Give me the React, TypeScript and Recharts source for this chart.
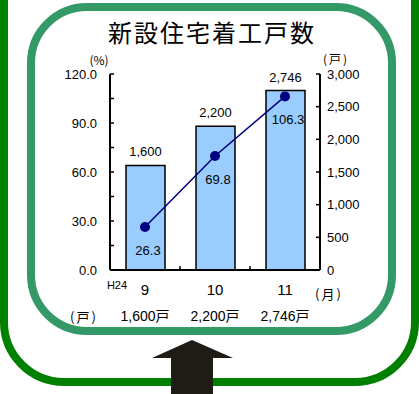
import { ComposedChart, Bar, Line, XAxis, YAxis, LabelList } from 'recharts';

// 新設住宅着工戸数（H24年9〜11月）
const months = ['9', '10', '11'];
const units = [1600, 2200, 2746]; // 戸
const ratio = [26.3, 69.8, 106.3]; // %
const leftTicks = [0, 15, 30, 45, 60, 75, 90, 105, 120];
const rightTicks = [0, 500, 1000, 1500, 2000, 2500, 3000];
const eraLabel = 'H24';

const rows = months.map((m, i) => ({ month: m, units: units[i], ratio: ratio[i] }));

const W = 419;
const H = 394;
const NUM_FONT = '"Liberation Sans", Arial, "Noto Sans CJK JP", sans-serif';
const JP_FONT = '"Noto Sans CJK JP", sans-serif';

const fmtCount = (v: number) => v.toLocaleString('ja-JP');

function MonthTick(props: any) {
  const { x, y, payload, index } = props;
  const half = payload?.offset ?? 0;
  const count = rows[index]?.units ?? 0;
  return (
    <g fontFamily={NUM_FONT} fill="#000">
      {index < rows.length - 1 && (
        <line x1={x + half} x2={x + half} y1={y} y2={y - 4} stroke="#000" strokeWidth={1.5} />
      )}
      {index === 0 && (
        <text x={x - half + 7} y={y + 19} textAnchor="middle" fontSize={11}>
          {eraLabel}
        </text>
      )}
      <text x={x} y={y + 25} textAnchor="middle" fontSize={15}>
        {payload.value}
      </text>
      <text x={x} y={y + 51} textAnchor="middle" fontSize={14}>
        {fmtCount(count)}戸
      </text>
    </g>
  );
}

function CountLabel(props: any) {
  const { x, y, width, value } = props;
  return (
    <text x={x + width / 2} y={y - 9} textAnchor="middle" fontSize={13} fontFamily={NUM_FONT} fill="#000">
      {fmtCount(value)}
    </text>
  );
}

function RatioLabel(props: any) {
  const { x, y, value } = props;
  return (
    <text x={x + 3} y={y + 28} textAnchor="middle" fontSize={13} fontFamily={NUM_FONT} fill="#000">
      {Number(value).toFixed(1)}
    </text>
  );
}

function Frame() {
  return (
    <svg width={W} height={H} style={{ position: 'absolute', left: 0, top: 0 }}>
      <rect x={4} y={-100} width={411} height={482} rx={60} fill="none" stroke="#008000" strokeWidth={8} />
      <rect x={31} y={7} width={361} height={324} rx={56} fill="#fff" stroke="#339966" strokeWidth={8} />
      <polygon points="192,340 233,358 213,358 213,394 171,394 171,358 152,358" fill="#1f1b15" />
      <text x={212} y={42} textAnchor="middle" fontSize={24} letterSpacing={2} fontFamily={JP_FONT} fill="#000">
        新設住宅着工戸数
      </text>
      <g fontFamily={JP_FONT} fontSize={12} fill="#000" textAnchor="middle">
        <text x={99} y={65}>(%)</text>
        <text x={336} y={64} letterSpacing={2}>(戸)</text>
        <text x={329} y={299} fontSize={13} letterSpacing={2}>(月)</text>
        <text x={84} y={322} fontSize={13} letterSpacing={2}>(戸)</text>
      </g>
    </svg>
  );
}

export default function App() {
  return (
    <div style={{ position: 'absolute', left: 0, top: 0, width: W, height: H, background: '#fff', overflow: 'hidden' }}>
      <Frame />
      <div style={{ position: 'absolute', left: 0, top: 0 }}>
        <ComposedChart width={W} height={H} data={rows} margin={{ top: 74, right: 49, bottom: 64, left: 60 }}>
          <XAxis
            dataKey="month"
            interval={0}
            height={60}
            tickSize={0}
            tickMargin={0}
            tickLine={false}
            axisLine={{ stroke: '#000', strokeWidth: 2 }}
            tick={<MonthTick />}
          />
          <YAxis
            yAxisId="left"
            orientation="left"
            width={50}
            domain={[0, 120]}
            ticks={leftTicks}
            interval={0}
            tickFormatter={(v: number) => (v % 30 === 0 ? v.toFixed(1) : '')}
            tickSize={-4}
            tickMargin={17}
            tickLine={{ stroke: '#000', strokeWidth: 1.5 }}
            axisLine={{ stroke: '#000', strokeWidth: 2 }}
            tick={{ fontSize: 13, fill: '#000', fontFamily: NUM_FONT }}
          />
          <YAxis
            yAxisId="right"
            orientation="right"
            width={50}
            domain={[0, 3000]}
            ticks={rightTicks}
            interval={0}
            tickFormatter={(v: number) => fmtCount(v)}
            tickSize={-4}
            tickMargin={11}
            tickLine={{ stroke: '#000', strokeWidth: 1.5 }}
            axisLine={{ stroke: '#000', strokeWidth: 2 }}
            tick={{ fontSize: 13, fill: '#000', fontFamily: NUM_FONT }}
          />
          <Bar
            yAxisId="right"
            dataKey="units"
            barSize={39}
            fill="#99ccff"
            stroke="#000"
            strokeWidth={1.5}
            isAnimationActive={false}
          >
            <LabelList dataKey="units" content={<CountLabel />} />
          </Bar>
          <Line
            yAxisId="left"
            dataKey="ratio"
            type="linear"
            stroke="#000080"
            strokeWidth={1.5}
            dot={{ r: 5, fill: '#000080', stroke: '#000080', strokeWidth: 0 }}
            activeDot={false}
            isAnimationActive={false}
          >
            <LabelList dataKey="ratio" content={<RatioLabel />} />
          </Line>
        </ComposedChart>
      </div>
    </div>
  );
}
